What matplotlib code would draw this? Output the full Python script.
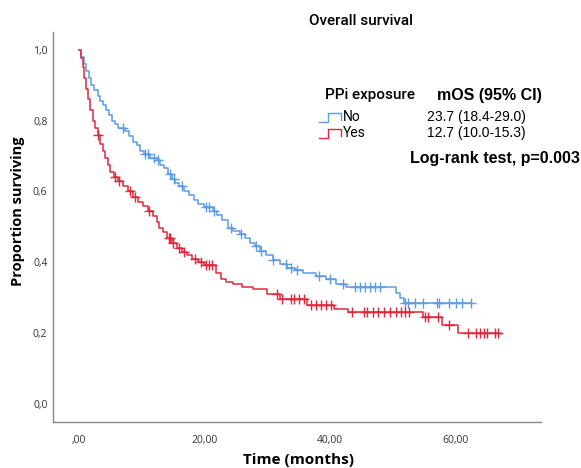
import numpy as np
import matplotlib
matplotlib.use("Agg")
import matplotlib.pyplot as plt
from matplotlib.lines import Line2D

# Kaplan-Meier step points (months, proportion surviving)
no_t = [0, 0.4, 0.8, 1.2, 1.6, 2.0, 2.5, 3.0, 3.4, 3.8, 4.3, 4.8, 5.3, 5.8, 6.3,
        7.4, 8.0, 8.6, 9.2, 9.8, 10.4, 11.3, 12.4, 13.0, 13.6, 14.2, 14.8, 15.4,
        16.0, 16.8, 17.6, 18.3, 19.0, 20.0, 21.3, 22.0, 22.8, 23.7, 24.5, 25.6,
        26.5, 27.2, 28.0, 28.8, 29.8, 30.9, 32.0, 33.1, 34.5, 35.7, 37.8, 39.4,
        41.0, 42.5, 50.5, 51.2, 51.8]
no_s = [1.0, 0.98, 0.96, 0.94, 0.92, 0.90, 0.885, 0.87, 0.855, 0.845, 0.83, 0.815,
        0.80, 0.79, 0.78, 0.77, 0.755, 0.74, 0.73, 0.715, 0.705, 0.695, 0.69, 0.675,
        0.665, 0.65, 0.635, 0.625, 0.615, 0.60, 0.59, 0.575, 0.565, 0.555, 0.545,
        0.535, 0.52, 0.497, 0.488, 0.479, 0.47, 0.455, 0.445, 0.432, 0.42, 0.408,
        0.396, 0.385, 0.378, 0.371, 0.361, 0.352, 0.338, 0.33, 0.315, 0.30, 0.285]
no_end = 62.5
no_cens = [7.0, 10.5, 11.0, 12.0, 12.6, 14.5, 15.2, 16.5, 20.2, 20.8, 21.5, 24.2,
           25.8, 28.3, 29.0, 31.0, 33.0, 33.8, 34.8, 38.2, 40.0, 42.0, 44.0, 44.8,
           45.6, 46.4, 47.2, 48.0, 52.0, 52.4, 53.5, 54.8, 57.0, 57.3, 59.0, 60.0,
           61.0, 62.5]

yes_t = [0, 0.3, 0.6, 0.9, 1.2, 1.5, 1.8, 2.2, 2.6, 3.0, 3.4, 3.8, 4.2, 4.6, 5.0,
         5.6, 6.2, 7.0, 7.8, 8.6, 9.4, 10.2, 11.0, 11.8, 12.5, 12.7, 13.4, 14.0,
         14.8, 15.6, 16.4, 17.2, 18.0, 19.0, 20.0, 21.9, 22.6, 23.5, 24.5, 26.0,
         27.7, 29.9, 32.0, 36.4, 40.7, 42.8, 54.8, 57.8, 60.4]
yes_s = [1.0, 0.975, 0.95, 0.92, 0.89, 0.86, 0.83, 0.80, 0.78, 0.76, 0.735, 0.715,
         0.695, 0.675, 0.655, 0.64, 0.63, 0.615, 0.60, 0.585, 0.57, 0.56, 0.545,
         0.53, 0.515, 0.497, 0.485, 0.47, 0.455, 0.44, 0.43, 0.42, 0.41, 0.40,
         0.392, 0.37, 0.352, 0.345, 0.338, 0.33, 0.324, 0.31, 0.296, 0.279, 0.270,
         0.260, 0.247, 0.224, 0.200]
yes_end = 67.0
yes_cens = [3.1, 5.8, 6.4, 8.2, 9.0, 11.2, 14.3, 14.6, 15.0, 15.9, 16.8, 18.5,
            19.4, 20.3, 20.8, 21.2, 31.5, 32.3, 33.8, 34.2, 35.0, 35.8, 37.0,
            37.8, 38.6, 39.4, 40.2, 43.5, 45.4, 45.9, 46.8, 47.6, 48.6, 49.6,
            50.5, 51.3, 52.0, 52.6, 55.2, 55.6, 57.2, 59.0, 62.0, 63.3, 63.9,
            64.5, 65.0, 66.3, 66.8]

groups = [("No", no_t, no_s, no_end, no_cens, "#5a9ce6"),
          ("Yes", yes_t, yes_s, yes_end, yes_cens, "#e0283c")]

x_ticks = [0, 20, 40, 60]
x_tick_labels = [",00", "20,00", "40,00", "60,00"]
y_ticks = [0.0, 0.2, 0.4, 0.6, 0.8, 1.0]
y_tick_labels = ["0,0", "0,2", "0,4", "0,6", "0,8", "1,0"]

narrow = ["Roboto", "DejaVu Sans"]
arial = ["Liberation Sans", "DejaVu Sans"]
opens = ["Open Sans", "DejaVu Sans"]

fig = plt.figure(figsize=(5.81, 4.68), dpi=100)
ax = fig.add_axes([0.0912, 0.098, 0.84, 0.834])

for name, t, s, t_end, cens, col in groups:
    tt = np.append(t, t_end)
    ss = np.append(s, s[-1])
    ax.step(tt, ss, where="post", color=col, lw=1.1)
    ci = np.searchsorted(t, cens, side="right") - 1
    ax.plot(cens, np.array(s)[ci], ls="none", marker="+", ms=7, mew=1.0, color=col)

ax.set_xlim(-4.1, 73.6)
ax.set_ylim(-0.05, 1.05)
ax.set_xticks(x_ticks)
ax.set_xticklabels(x_tick_labels)
ax.set_yticks(y_ticks)
ax.set_yticklabels(y_tick_labels)
ax.tick_params(length=0, labelsize=7.5, labelcolor="#333333")
ax.tick_params(axis="y", pad=4)
ax.tick_params(axis="x", pad=9)
for lab in ax.get_xticklabels() + ax.get_yticklabels():
    lab.set_family(opens)
for sp in ["top", "right"]:
    ax.spines[sp].set_visible(False)
for sp in ["left", "bottom"]:
    ax.spines[sp].set_color("#888888")
    ax.spines[sp].set_linewidth(1.0)

fig.text(0.514, 0.017, "Time (months)", family=opens, fontweight="bold", fontsize=11,
         ha="center", va="center")
fig.text(0.031, 0.548, "Proportion surviving", family=opens, fontweight="bold", fontsize=10.5,
         rotation=90, ha="center", va="center")

fig.text(0.621, 0.955, "Overall survival", family=narrow, fontweight="medium", fontsize=11,
         ha="center", va="center")

# legend block
fig.text(0.559, 0.797, "PPi exposure", family=narrow, fontweight="medium", fontsize=11,
         ha="left", va="center")
fig.text(0.752, 0.797, "mOS (95% CI)", family=arial, fontweight="bold", fontsize=11.5,
         ha="left", va="center")
rows = [("No", "23.7 (18.4-29.0)", "#5a9ce6", 0.750),
        ("Yes", "12.7 (10.0-15.3)", "#e0283c", 0.716)]
for lab, ci_txt, col, yy in rows:
    xs = [0.549, 0.564, 0.564, 0.587, 0.587]
    ys = [yy - 0.010, yy - 0.010, yy + 0.008, yy + 0.008, yy - 0.006]
    fig.add_artist(Line2D(xs, ys, color=col, lw=1.0, transform=fig.transFigure))
    fig.text(0.590, yy, lab, family=narrow, fontsize=10, ha="left", va="center")
    fig.text(0.735, yy, ci_txt, family=arial, fontsize=10, ha="left", va="center")
fig.text(0.706, 0.662, "Log-rank test, p=0.003", family=arial, fontweight="bold", fontsize=11.5,
         ha="left", va="center")

fig.savefig("out.png", dpi=100)
